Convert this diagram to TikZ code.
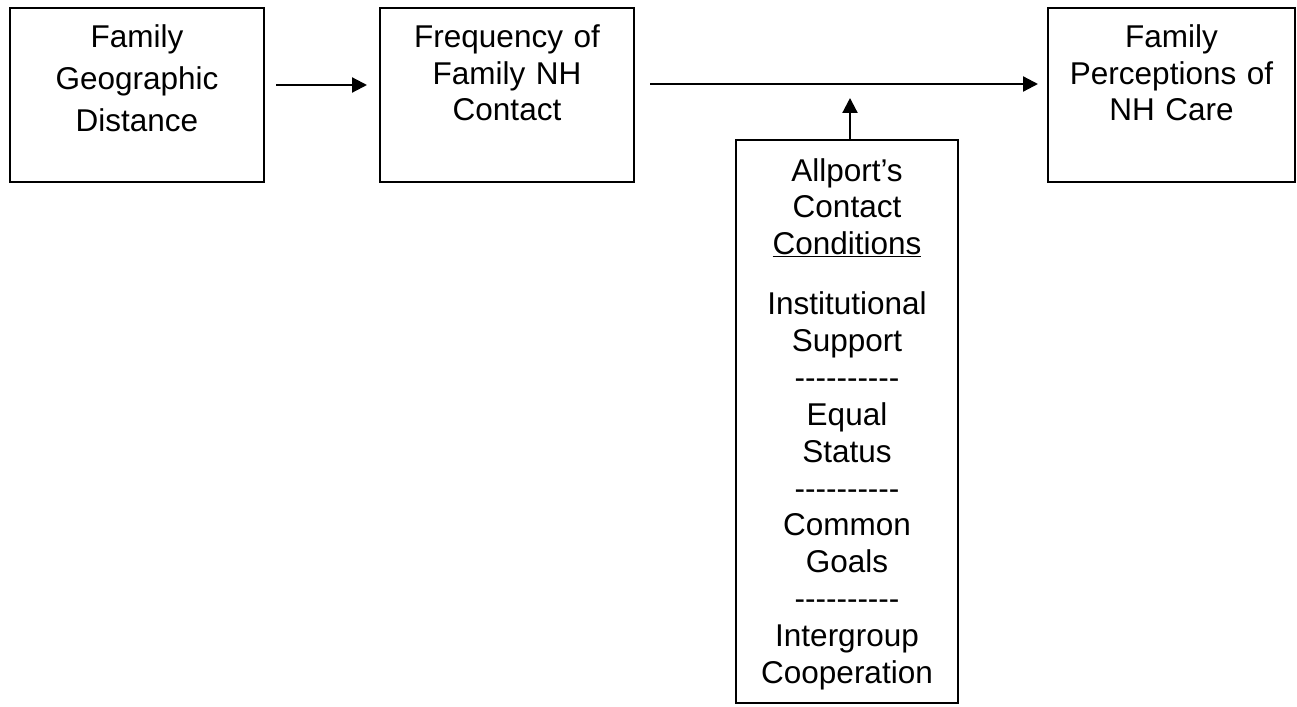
\documentclass[tikz,border=0pt]{standalone}
\usepackage{fontspec}
\setmainfont{Liberation Sans}
\usetikzlibrary{arrows.meta}
\newcommand\hy{\mbox{-}}
\newcommand\dashline{\hy\hy\hy\hy\hy\hy\hy\hy\hy\hy}
\begin{document}
\begin{tikzpicture}[x=1pt,y=-1pt,
  box/.style={draw,line width=2pt,inner sep=0pt},
  txt/.style={text width=260pt,align=center,inner sep=0pt,anchor=base,
    font=\fontsize{31.5}{36.5}\selectfont},
  arr/.style={line width=2.2pt,-{Triangle[length=15pt,width=15pt]}}]
\useasboundingbox (0,0) rectangle (1297,706);
\node[box,minimum width=254pt,minimum height=174pt] (b1) at (137,95) {};
\node[box,minimum width=254pt,minimum height=174pt] (b2) at (507,95) {};
\node[box,minimum width=247pt,minimum height=174pt] (b3) at (1171.5,95) {};
\node[box,minimum width=222pt,minimum height=563pt] (b4) at (847,421.5) {};
\node[txt,font=\fontsize{31.5}{42}\selectfont] (t1) at (137,48) {Family\\Geographic\\Distance};
\node[txt] (t2) at (507,48) {Frequency of\\Family NH\\Contact};
\node[txt] (t3) at (1171.5,48) {Family\\Perceptions of\\NH Care};
\node[txt,font=\fontsize{31.5}{36.9}\selectfont] (t4) at (847,181) {Allport’s\\[-0.4pt]Contact\\[-0.4pt]\underline{Conditions}\\[23.6pt]Institutional\\Support\\\dashline\\Equal\\Status\\\dashline\\Common\\Goals\\\dashline\\Intergroup\\Cooperation};
\coordinate (m) at (850,98);
\draw[arr,shorten <=11pt,shorten >=12pt] ([yshift=10pt]b1.east) -- ([yshift=10pt]b2.west);
\draw[arr,shorten <=15pt,shorten >=9pt] ([yshift=11pt]b2.east) -- ([yshift=11pt]b3.west);
\draw[arr] (b4.north -| m) -- (m);
\end{tikzpicture}
\end{document}
